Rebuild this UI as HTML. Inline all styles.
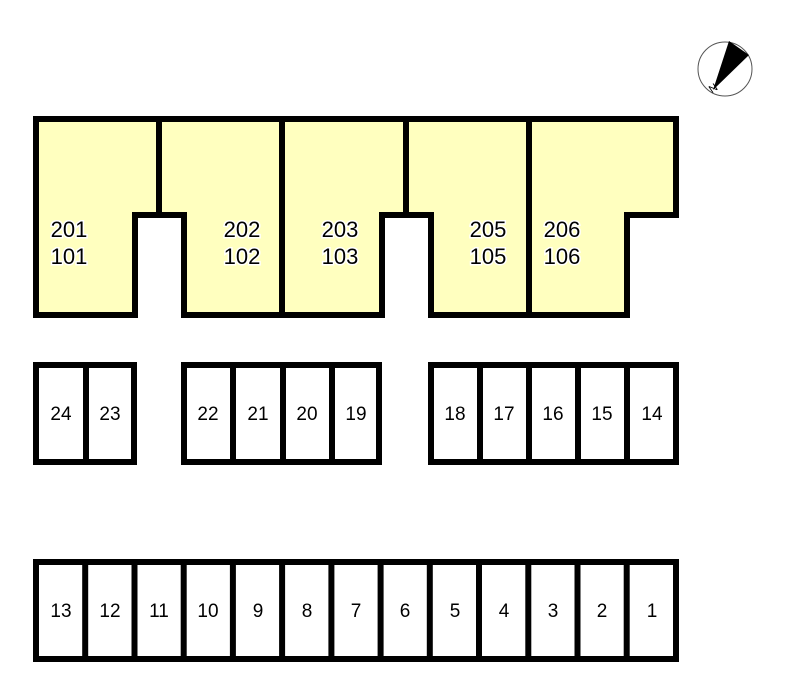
<!DOCTYPE html>
<html><head><style>body{margin:0;background:#fff}</style></head><body>
<svg width="800" height="692" xmlns="http://www.w3.org/2000/svg" style="display:block">
<g font-family="Liberation Sans, sans-serif" text-anchor="middle">
<circle cx="725" cy="69" r="27" fill="#fff" stroke="#555" stroke-width="1"/>
<path d="M713,90 L729,41 L749,55 Z" fill="#000"/>
<text x="713" y="92" font-size="11" transform="rotate(-35 713 88)" fill="#000">N</text>
<path d="M36,119 H676 V215 H627 V315 H431 V215 H382 V315 H184 V215 H135 V315 H36 Z" fill="#ffffbf" stroke="#000" stroke-width="6"/>
<path d="M159,119 V215 M282,119 V315 M406,119 V215 M529,119 V315" stroke="#000" stroke-width="6"/>
<g font-size="22" fill="#000" stroke="#fff" stroke-width="3" paint-order="stroke">
<text x="69" y="237">201</text><text x="69" y="264">101</text>
<text x="242" y="237">202</text><text x="242" y="264">102</text>
<text x="340" y="237">203</text><text x="340" y="264">103</text>
<text x="488" y="237">205</text><text x="488" y="264">105</text>
<text x="562" y="237">206</text><text x="562" y="264">106</text>
</g>
<g fill="#fff" stroke="#000" stroke-width="6">
<rect x="36" y="365" width="98" height="97"/>
<rect x="184" y="365" width="195" height="97"/>
<rect x="431" y="365" width="245" height="97"/>
<rect x="36" y="562" width="640" height="97"/>
<path d="M86,365V462 M233,365V462 M283,365V462 M332,365V462 M480,365V462 M529,365V462 M578,365V462 M627,365V462"/>
<path d="M85.2,562V659 M134.5,562V659 M183.7,562V659 M232.9,562V659 M282.1,562V659 M331.4,562V659 M380.6,562V659 M429.8,562V659 M479,562V659 M528.3,562V659 M577.5,562V659 M626.7,562V659"/>
</g>
<g font-size="19" fill="#000">
<text x="61" y="420">24</text><text x="110" y="420">23</text>
<text x="208" y="420">22</text><text x="258" y="420">21</text><text x="307" y="420">20</text><text x="356" y="420">19</text>
<text x="455" y="420">18</text><text x="504" y="420">17</text><text x="553" y="420">16</text><text x="602" y="420">15</text><text x="652" y="420">14</text>
<text x="61" y="617">13</text><text x="110" y="617">12</text><text x="159" y="617">11</text><text x="208" y="617">10</text><text x="258" y="617">9</text><text x="307" y="617">8</text><text x="356" y="617">7</text><text x="405" y="617">6</text><text x="455" y="617">5</text><text x="504" y="617">4</text><text x="553" y="617">3</text><text x="602" y="617">2</text><text x="652" y="617">1</text>
</g>
</g>
</svg>
</body></html>
